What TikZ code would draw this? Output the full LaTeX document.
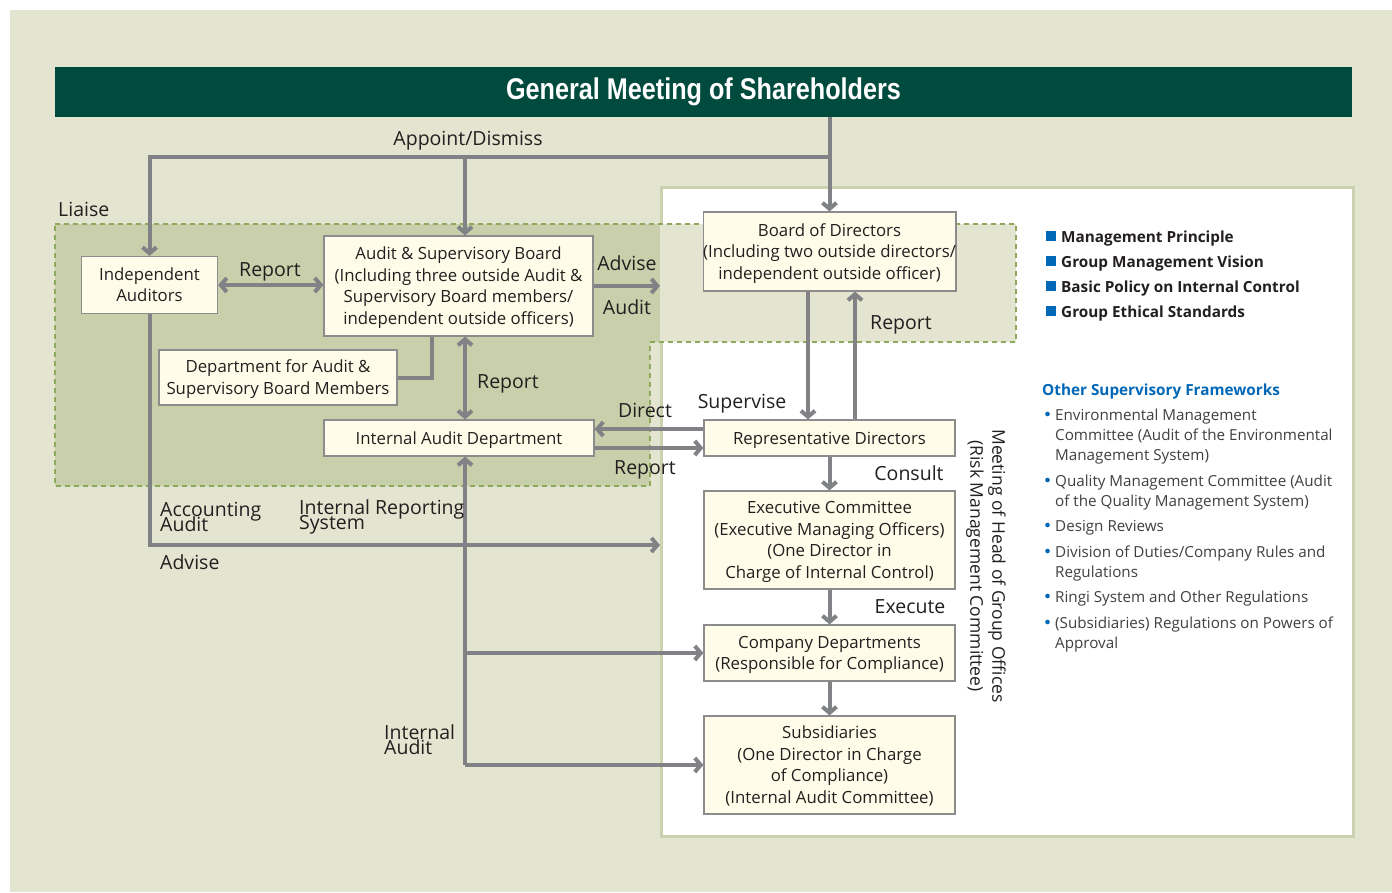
\documentclass[tikz,border=0pt]{standalone}
\usepackage{fontspec}
\setmainfont{Open Sans}
\newfontfamily\hdrfont[FakeStretch=0.84]{Liberation Sans}
\usetikzlibrary{arrows.meta,calc}
\newcommand\tightlines{\lineskiplimit-30pt\relax}
\newcommand\topst{\rule{0pt}{17pt}}
\newcommand\botst{\rule[-5pt]{0pt}{0pt}}
\definecolor{bgc}{HTML}{E3E5D0}
\definecolor{olivec}{HTML}{C9CFAB}
\definecolor{dashc}{HTML}{8DAA5C}
\definecolor{hdrc}{HTML}{004A3E}
\definecolor{boxfill}{HTML}{FFFDE9}
\definecolor{boxline}{HTML}{8C8C8C}
\definecolor{arrc}{HTML}{808285}
\definecolor{panelline}{HTML}{CBD2B0}
\definecolor{blu}{HTML}{0068B7}
\definecolor{txt}{HTML}{231F20}
\definecolor{listc}{HTML}{404040}
\tikzset{
  box/.style={draw=boxline, fill=boxfill, line width=1.2pt, align=center, inner sep=0pt, text=txt, font=\fontsize{16.8}{21.5}\selectfont},
  lbl/.style={text=txt, inner sep=0pt, anchor=base, font=\fontsize{19.5}{20}\selectfont},
  lbl2/.style={text=txt, inner sep=0pt, align=left, anchor=west, font=\fontsize{19.5}{15}\selectfont\tightlines},
  ln/.style={draw=arrc, line width=4pt},
  arr/.style={ln, -{Straight Barb[length=6pt,width=14pt]}},
  dbl/.style={ln, {Straight Barb[length=6pt,width=14pt]}-{Straight Barb[length=6pt,width=14pt]}},
  bold/.style={text=txt, inner sep=0pt, anchor=west, font=\bfseries\fontsize{15.3}{18}\selectfont},
  item/.style={text=listc, inner sep=0pt, anchor=north west, align=left, font=\fontsize{15.2}{20}\selectfont},
}
\begin{document}
\begin{tikzpicture}[x=1pt,y=-1pt]
\useasboundingbox (0,0) rectangle (1392,892);
\fill[white] (0,0) rectangle (1392,892);
\fill[bgc] (10,10) rectangle (1392,892);
% white panel
\node[draw=panelline, line width=3pt, fill=white, minimum width=692pt, minimum height=649pt, inner sep=0pt, anchor=north west] (panel) at (660,186) {};
% shaded regions
\fill[olivec] (55,224) -- (660,224) -- (660,342) -- (650,342) -- (650,486) -- (55,486) -- cycle;
\fill[bgc] (660,224) rectangle (1016,342);
\draw[dashc, line width=2pt, dash pattern=on 5pt off 4pt] (55,224) -- (1016,224) -- (1016,342) -- (650,342) -- (650,486) -- (55,486) -- cycle;
% header
\node[fill=hdrc, minimum width=1297pt, minimum height=50pt, inner sep=0pt, text=white, font=\hdrfont\bfseries\fontsize{30}{30}\selectfont] (gm) at (703.5,92) {General Meeting of Shareholders};
% boxes
\node[box, minimum width=136pt, minimum height=57pt] (ia) at (149.5,285) {\topst Independent\\Auditors\botst};
\node[box, minimum width=269pt, minimum height=100pt] (asb) at (458.5,286) {\topst Audit \& Supervisory Board\\(Including three outside Audit \&\\Supervisory Board members/\\independent outside officers)\botst};
\node[box, minimum width=238pt, minimum height=55pt] (dept) at (278,377.5) {\topst Department for Audit \&\\Supervisory Board Members\botst};
\node[box, minimum width=270pt, minimum height=36pt] (iad) at (459,438) {\topst Internal Audit Department\botst};
\node[box, minimum width=251pt, minimum height=79pt] (bod) at (829.5,251.5) {\topst Board of Directors\\(Including two outside directors/\\independent outside officer)\botst};
\node[box, minimum width=251pt, minimum height=36pt] (rd) at (829.5,438) {\topst Representative Directors\botst};
\node[box, minimum width=251pt, minimum height=98pt] (ec) at (829.5,540) {\topst Executive Committee\\(Executive Managing Officers)\\(One Director in\\Charge of Internal Control)\botst};
\node[box, minimum width=251pt, minimum height=56pt] (cd) at (829.5,653) {\topst Company Departments\\(Responsible for Compliance)\botst};
\node[box, minimum width=251pt, minimum height=98pt] (sub) at (829.5,765) {\topst Subsidiaries\\(One Director in Charge\\of Compliance)\\(Internal Audit Committee)\botst};
% helper coordinates
\coordinate (bus) at (829.5,157);
\coordinate (vx) at (465,0);
\coordinate (sx) at (808,0);
\coordinate (rx) at (855,0);
\coordinate (dx) at (432,0);
% connectors
\draw[arr] (gm.south -| bus) -- (bod.north);
\draw[arr] (bus) -| (ia.north);
\draw[arr] (bus -| vx) -- (vx |- asb.north);
\draw[dbl] (ia.east) -- (asb.west |- ia.east);
\draw[arr] (asb.east) -- (panel.west |- asb.east);
\draw[ln] (dept.east) -| (dx |- asb.south);
\draw[dbl] (vx |- asb.south) -- (vx |- iad.north);
\draw[arr] (ia.south) |- (panel.west |- 0,545);
\draw[arr] (vx |- sub.west) -- (vx |- iad.south);
\draw[arr] (vx |- cd.west) -- (cd.west);
\draw[arr] (vx |- sub.west) -- (sub.west);
\draw[arr] (rd.west |- 0,429) -- (iad.east |- 0,429);
\draw[arr] (iad.east |- 0,448) -- (rd.west |- 0,448);
\draw[arr] (sx |- bod.south) -- (sx |- rd.north);
\draw[arr] (rx |- rd.north) -- (rx |- bod.south);
\draw[arr] (rd.south) -- (ec.north);
\draw[arr] (ec.south) -- (cd.north);
\draw[arr] (cd.south) -- (sub.north);
% labels (anchored at their baselines)
\node[lbl] (lapp) at (468,145) {Appoint/Dismiss};
\node[lbl, anchor=base west] (lli) at (58,216) {Liaise};
\node[lbl] (lrep1) at (270,276) {Report};
\node[lbl] (ladv1) at (627,270) {Advise};
\node[lbl] (laud1) at (627,314) {Audit};
\node[lbl] (lrep2) at (508,388) {Report};
\node[lbl] (ldir) at (645,417) {Direct};
\node[lbl] (lrep3) at (645,474) {Report};
\node[lbl] (lsup) at (742,408) {Supervise};
\node[lbl] (lrep4) at (901,329) {Report};
\node[lbl] (lcon) at (909,480) {Consult};
\node[lbl] (lexe) at (910,613) {Execute};
\node[lbl2] (lacc) at (160,517) {Accounting\\Audit};
\node[lbl2] (lirs) at (299,517) {Internal Reporting\\System};
\node[lbl, anchor=base west] (ladv2) at (160,569) {Advise};
\node[lbl2] (lia) at (384,740) {Internal\\Audit};
% vertical text
\node[rotate=-90, align=center, text=txt, inner sep=0pt, font=\fontsize{17.5}{22}\selectfont] (mtg) at (986,566) {Meeting of Head of Group Offices\\(Risk Management Committee)};
% right side lists
\fill[blu] (1046,231) rectangle (1056,241);
\fill[blu] (1046,256) rectangle (1056,266);
\fill[blu] (1046,281) rectangle (1056,291);
\fill[blu] (1046,306) rectangle (1056,316);
\node[bold] (b1) at (1061,239) {Management Principle};
\node[bold] (b2) at (1061,264) {Group Management Vision};
\node[bold] (b3) at (1061,289) {Basic Policy on Internal Control};
\node[bold] (b4) at (1061,314) {Group Ethical Standards};
\node[bold, text=blu] (osf) at (1042,392) {Other Supervisory Frameworks};
\foreach \yy in {414,480,525,551,596,622} { \fill[blu] (1047.5,\yy) circle (2.3pt); }
\node[item] (i1) at (1055,409) {Environmental Management\\Committee (Audit of the Environmental\\Management System)};
\node[item] (i2) at (1055,475) {Quality Management Committee (Audit\\of the Quality Management System)};
\node[item] (i3) at (1055,520) {Design Reviews};
\node[item] (i4) at (1055,546) {Division of Duties/Company Rules and\\Regulations};
\node[item] (i5) at (1055,591) {Ringi System and Other Regulations};
\node[item] (i6) at (1055,617) {(Subsidiaries) Regulations on Powers of\\Approval};
\end{tikzpicture}
\end{document}
